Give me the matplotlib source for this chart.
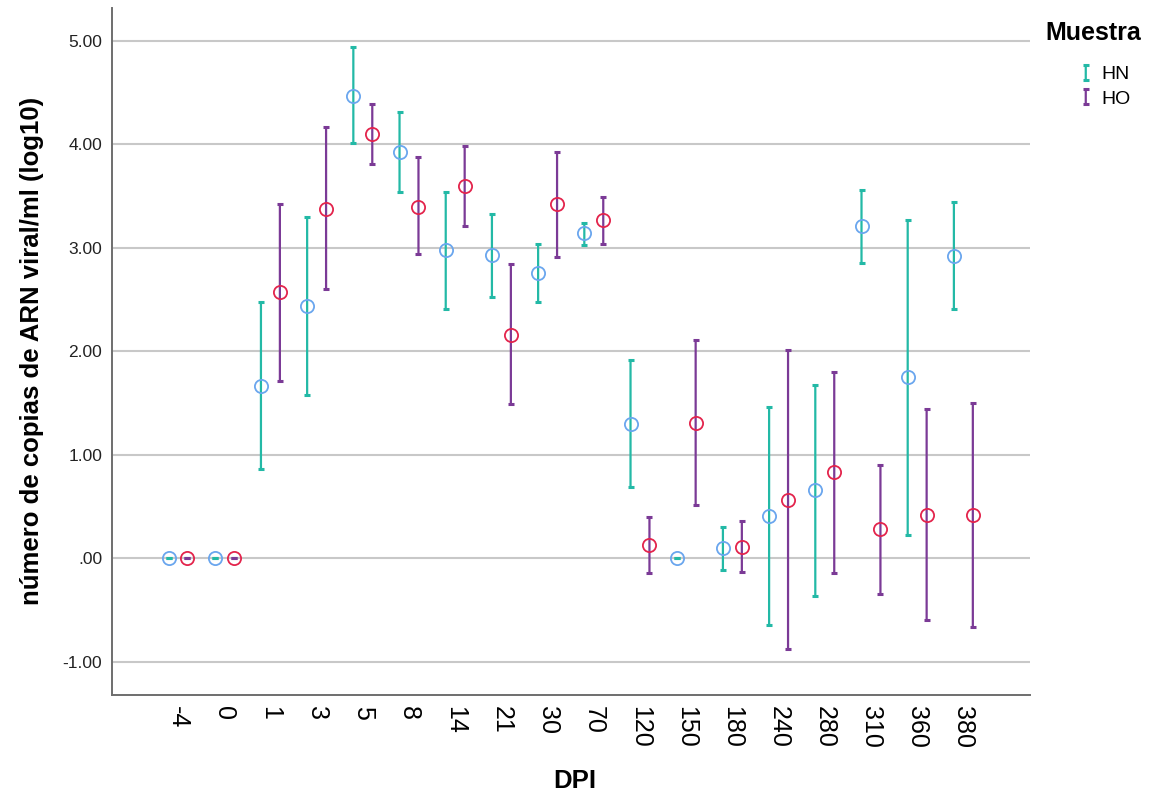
import numpy as np
import matplotlib
matplotlib.use("Agg")
import matplotlib.pyplot as plt
from matplotlib.container import ErrorbarContainer
from matplotlib.legend_handler import HandlerErrorbar

plt.rcParams['font.family'] = ['Liberation Sans', 'DejaVu Sans']

# DPI categories
dpi = ["-4", "0", "1", "3", "5", "8", "14", "21", "30", "70",
       "120", "150", "180", "240", "280", "310", "360", "380"]

# HN: mean and error bar limits (log10 copies/ml)
hn_mean = [0, 0, 1.67, 2.44, 4.47, 3.93, 2.98, 2.93, 2.76, 3.14, 1.30, 0, 0.10, 0.41, 0.66, 3.21, 1.75, 2.92]
hn_low = [0, 0, 0.86, 1.58, 4.01, 3.54, 2.41, 2.53, 2.48, 3.03, 0.69, 0, -0.11, -0.64, -0.36, 2.85, 0.23, 2.41]
hn_high = [0, 0, 2.48, 3.30, 4.94, 4.31, 3.54, 3.33, 3.04, 3.24, 1.92, 0, 0.30, 1.46, 1.68, 3.56, 3.27, 3.44]

# HO
ho_mean = [0, 0, 2.57, 3.38, 4.10, 3.40, 3.60, 2.16, 3.42, 3.27, 0.13, 1.31, 0.11, 0.56, 0.83, 0.28, 0.42, 0.42]
ho_low = [0, 0, 1.71, 2.60, 3.81, 2.94, 3.21, 1.49, 2.91, 3.04, -0.14, 0.52, -0.13, -0.88, -0.14, -0.34, -0.60, -0.66]
ho_high = [0, 0, 3.42, 4.17, 4.39, 3.88, 3.98, 2.84, 3.93, 3.49, 0.40, 2.11, 0.36, 2.01, 1.80, 0.90, 1.44, 1.50]

y_ticks = [-1, 0, 1, 2, 3, 4, 5]
y_ticklabels = ["-1.00", ".00", "1.00", "2.00", "3.00", "4.00", "5.00"]

bar_hn = "#23b9a6"
bar_ho = "#7b3a96"
dot_hn = "#6aa6ee"
dot_ho = "#e3244c"

fig = plt.figure(figsize=(11.59, 8), dpi=100)
ax = fig.add_axes([0.0966, 0.13125, 0.792, 0.859])

x = np.arange(len(dpi))
off = 0.205

def draw(xpos, mean, low, high, bc, mc, label):
    mean = np.array(mean)
    err = [mean - np.array(low), np.array(high) - mean]
    eb = ax.errorbar(xpos, mean, yerr=err, fmt='none', ecolor=bc, elinewidth=1.6,
                     capsize=2.2, capthick=2.2, zorder=3, label=label)
    for cap in eb.lines[1]:
        cap.set_snap(False)
    for col in eb.lines[2]:
        col.set_snap(False)
    ax.plot(xpos, mean, 'o', ms=9.5, mfc='none', mec=mc, mew=1.3, zorder=4)
    return eb

h1 = draw(x - off, hn_mean, hn_low, hn_high, bar_hn, dot_hn, "HN")
h2 = draw(x + off, ho_mean, ho_low, ho_high, bar_ho, dot_ho, "HO")

ax.set_xlim(-1.43, 18.44)
ax.set_ylim(-1.32, 5.32)
ax.set_yticks(y_ticks)
ax.set_yticklabels(y_ticklabels, fontsize=12.5, color='#222222')
ax.set_xticks(x)
ax.set_xticklabels(dpi, rotation=-90, fontsize=18)
ax.tick_params(axis='both', length=0)
ax.tick_params(axis='x', pad=8)
ax.tick_params(axis='y', pad=7)

ax.grid(axis='y', color='#c8c8c8', lw=1.5, zorder=0)
ax.set_axisbelow(True)
for s in ['top', 'right']:
    ax.spines[s].set_visible(False)
for s in ['left', 'bottom']:
    ax.spines[s].set_color('#6e6e6e')
    ax.spines[s].set_linewidth(1.4)

ax.set_ylabel("número de copias de ARN viral/ml (log10)", fontsize=18.5, fontweight='bold')
ax.yaxis.set_label_coords(-0.074, 0.5)
ax.set_xlabel("DPI", fontsize=18.5, fontweight='bold')
ax.xaxis.set_label_coords(0.504, -0.108)

# legend title and entries
fig.text(1045 / 1159, 1 - 33 / 800, "Muestra", ha='left', va='center',
         fontsize=18, fontweight='bold')
leg = fig.legend(handles=[h1, h2], labels=["HN", "HO"], loc='upper left',
                 bbox_to_anchor=(0.915, 0.94), frameon=False, fontsize=14,
                 handlelength=0.8, handletextpad=0.4, labelspacing=0.35,
                 handler_map={ErrorbarContainer: HandlerErrorbar(xerr_size=0.38)})
for art in leg.findobj():
    if hasattr(art, 'set_snap'):
        art.set_snap(False)

fig.savefig("out.png", dpi=100)
